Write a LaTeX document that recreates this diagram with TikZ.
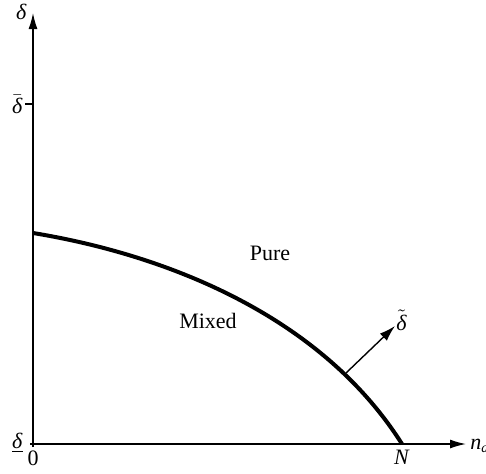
\documentclass[tikz,border=0pt]{standalone}
\usepackage{fontspec}
\setmainfont{Liberation Serif}
\usetikzlibrary{arrows.meta}
\tikzset{
  axis/.style={line width=0.7pt, -{Latex[length=8pt,width=4.5pt]}},
  lab/.style={font=\fontsize{11}{13}\selectfont, inner sep=1pt},
  bound/.style={line width=2pt},
}
\newcommand{\dlt}{\textit{δ}}
\begin{document}
\begin{tikzpicture}[x=0.5pt, y=0.5pt]
    \useasboundingbox (0,0) rectangle (486,473);
    % axes
    \coordinate (org) at (33,29);
    \coordinate (xend) at (466,29);
    \coordinate (yend) at (33,460);
    \draw[axis] (30,29) -- (xend);
    \draw[axis] (33,26) -- (yend);
    \node[lab, anchor=south east] (ylab) at (29,451) {\dlt};
    \node[lab, anchor=west] (xlab) at (468,27) {\textit{n}$_{\hbox{\scriptsize\itshape d}}$};
    % ticks
    \coordinate (dbar) at (33,369);
    \draw[line width=0.7pt] (dbar) -- ++(-8,0);
    \node[lab, anchor=east] (dbarlab) at (25,369) {$\bar{\hbox{\dlt}}$};
    \node[lab, anchor=east] (dunderlab) at (25,30) {\underline{\dlt}};
    \node[lab, anchor=north] (zero) at (33,25) {0};
    \coordinate (nn) at (402,29);
    \node[lab, anchor=north] (nlab) at (nn|-zero.north) {\textit{N}};
    % boundary curve
    \coordinate (c0) at (33,240);
    \draw[bound] (c0) .. controls (173,217) and (323,154) .. (nn);
    % regions
    \node[lab] (pure) at (270,220) {Pure};
    \node[lab] (mixed) at (208,152) {Mixed};
    % normal direction
    \coordinate (nbase) at (346,100);
    \coordinate (ntip) at (395,147);
    \draw[line width=0.7pt, -{Latex[length=8pt,width=5pt]}] (nbase) -- (ntip);
    \node[lab, anchor=south west] (tlab) at (394,140) {$\tilde{\hbox{\dlt}}$};
\end{tikzpicture}
\end{document}
